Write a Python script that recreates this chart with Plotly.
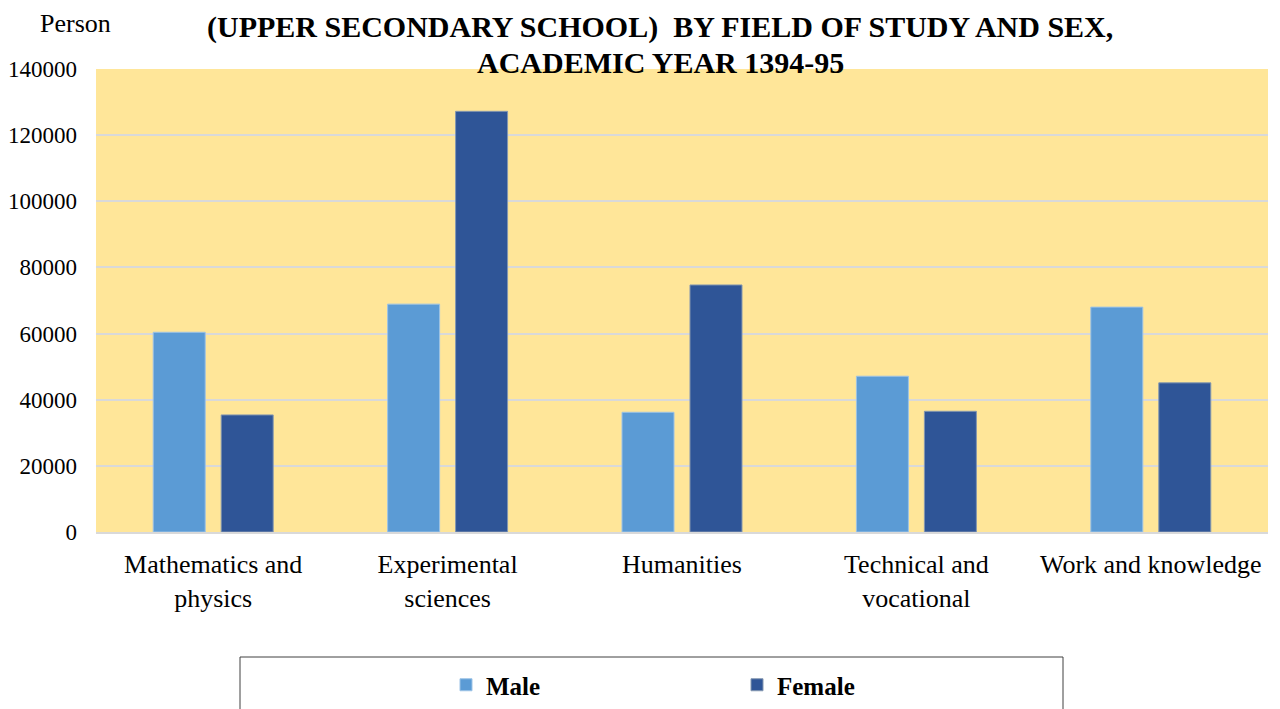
import plotly.graph_objects as go

categories = ["Mathematics and<br>physics", "Experimental<br>sciences", "Humanities",
              "Technical and<br>vocational", "Work and knowledge"]
male = [60400, 68900, 36200, 47100, 68000]
female = [35400, 127200, 74700, 36500, 45100]
y_ticks = [0, 20000, 40000, 60000, 80000, 100000, 120000, 140000]
title_lines = ["(UPPER SECONDARY SCHOOL)  BY FIELD OF STUDY AND SEX,", "ACADEMIC YEAR 1394-95"]

FONT = "Liberation Serif"
OFF = 8  # default page body margin
W, H = 1280 - OFF, 709 - OFF
# plot area in screen pixels: left 96, right 1268, top 69, bottom 532
L, T = 96 - OFF, 69 - OFF
R = W - (1268 - OFF)
B = H - (532 - OFF)
pw = W - L - R
ph = H - T - B

def px_x(x):
    return (x - OFF - L) / pw

def px_y(y):
    return (H - B - (y - OFF)) / ph

fig = go.Figure()
fig.add_trace(go.Bar(name="<b>Male</b>", x=categories, y=male, marker_color="#5B9BD5",
                     marker_line=dict(color="#9DC3E6", width=1)))
fig.add_trace(go.Bar(name="<b>Female</b>", x=categories, y=female, marker_color="#2F5597",
                     marker_line=dict(color="#8497B0", width=1)))

fig.update_layout(
    width=W, height=H,
    margin=dict(l=L, r=R, t=T, b=B, autoexpand=False),
    paper_bgcolor="white",
    plot_bgcolor="#FFE699",
    barmode="group",
    bargap=0.42,
    bargroupgap=0.235,
    font=dict(family=FONT, color="black"),
    showlegend=True,
    legend=dict(orientation="h", x=px_x(446), xanchor="left", y=px_y(685), yanchor="middle",
                font=dict(family=FONT, size=25, color="black"),
                entrywidth=246, entrywidthmode="pixels", itemwidth=30,
                bgcolor="rgba(0,0,0,0)", borderwidth=0),
    xaxis=dict(tickfont=dict(family=FONT, size=26, color="black"),
               showline=True, linecolor="#D9D9D9", linewidth=2, automargin=False,
               ticks="", ticklabelstandoff=8, showgrid=False),
    yaxis=dict(range=[0, 140000], tickvals=y_ticks, tickformat="d", automargin=False,
               tickfont=dict(family=FONT, size=23, color="black"),
               showgrid=True, gridcolor="#D9D9D9", gridwidth=2,
               zeroline=False, ticks="", ticklabelstandoff=18),
)

fig.add_annotation(text="Person", x=px_x(75), y=px_y(24), xref="paper", yref="paper",
                   xanchor="center", yanchor="middle", showarrow=False,
                   font=dict(family=FONT, size=26, color="black"))
for line, yc in zip(title_lines, [27, 63]):
    fig.add_annotation(text="<b>" + line + "</b>", x=px_x(660), y=px_y(yc),
                       xref="paper", yref="paper", xanchor="center", yanchor="middle",
                       showarrow=False, font=dict(family=FONT, size=30, color="black"))

fig.add_shape(type="rect", xref="paper", yref="paper",
              x0=px_x(240), x1=px_x(1063), y0=px_y(730), y1=px_y(657),
              line=dict(color="#404040", width=1), fillcolor="rgba(0,0,0,0)", layer="above")

fig.write_html("out.html")
